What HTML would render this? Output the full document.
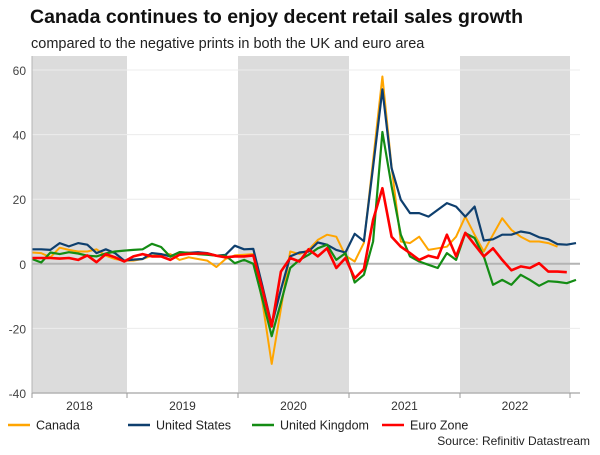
<!DOCTYPE html>
<html><head><meta charset="utf-8">
<style>
body{margin:0;background:#fff;font-family:"Liberation Sans",sans-serif;}
svg text{font-family:"Liberation Sans",sans-serif;}
</style></head>
<body>
<svg id="chart" width="600" height="450" viewBox="0 0 600 450">
<text x="30" y="23" font-size="19.5" font-weight="bold" fill="#111">Canada continues to enjoy decent retail sales growth</text>
<text x="31" y="48" font-size="14.5" fill="#222">compared to the negative prints in both the UK and euro area</text>
<g id="bands"></g>
<g id="grid"></g>
<g id="series"></g>
<g id="axes"></g>
<g id="legend"></g>
<text x="590" y="445" font-size="12" text-anchor="end" fill="#222">Source: Refinitiv Datastream</text>
</svg>
<script>
const yearLabels = ["2018","2019","2020","2021","2022"];
const yTicks = [60,40,20,0,-20,-40];
const seriesNames = ["Canada","United States","United Kingdom","Euro Zone"];
const canada = [3.5,3.3,2,5,4.3,3.8,3.8,4.5,2.5,1.5,1,1,1.5,2.5,2.7,3,1.2,2,1.5,1,-1,1.5,2.6,2.8,3,-12,-31,-14,3.8,3,4.3,7.4,9,8.4,2.5,0.7,6.5,32,58,30,6.9,6.4,8.4,4.3,4.8,5.3,8.4,14.6,9,3.8,9,14.1,10.5,8.4,6.9,6.9,6.4,5.3];
const unitedStates = [4.5,4.5,4.3,6.4,5.4,6.4,5.9,3.3,4.5,3.3,1,1.3,1.5,3.3,3,2.3,3.6,3.4,3.6,3.3,2.5,2.8,5.6,4.5,4.6,-7,-19,-8,2.3,3.5,3.8,6.6,5.9,4.3,3.5,9.3,7,30,54,29.6,19.8,15.7,15.7,14.6,16.7,18.8,17.7,14.6,17.7,7.2,7.6,9,9,10,9.5,8.2,7.6,6.1,5.9,6.4];
const unitedKingdom = [1.5,0.4,3.5,3,3.6,3.2,2.5,2.3,3.2,3.8,4.1,4.3,4.5,6.2,5.2,2.2,3.6,3.4,3,2.8,2.5,2.5,0.2,1.2,0,-11,-22.4,-12,-1.3,1.2,2.8,4.8,5.9,1.2,3.3,-5.8,-3.4,6.9,40.8,24,9,2.3,0.7,-0.3,-1.3,3.3,1.2,9.5,8,2.3,-6.5,-5,-6.5,-3.4,-5,-6.8,-5.4,-5.6,-6,-5];
const euroZone = [1.8,1.8,1.8,1.6,1.8,1.2,2.6,0.5,3,2,0.7,2.3,3,2.3,2.3,1.2,2.8,3.1,3.2,3.2,2.5,2,2.3,2.3,2.6,-8,-19.4,-2.4,1.8,0.7,4.5,2.3,4.8,-1.3,1.8,-4.5,-1.6,13.6,23.4,8.4,5.3,3.3,1.2,2.5,1.8,9,2.3,9.6,5.9,2.3,4.8,1.2,-2,-0.8,-1.3,0.2,-2.4,-2.4,-2.6];

const NS="http://www.w3.org/2000/svg";
const L=32,R=580,T=56,B=393,YTOP=70;
const yMin=-40,yMax=60;
function ys(v){return B-(v-yMin)/(yMax-yMin)*(B-YTOP);}
function xs(i){return L+i*9.22;}
const yearEdges=[L,127,238,349,460,570];
function mk(tag,attrs,parent){const e=document.createElementNS(NS,tag);for(const k in attrs)e.setAttribute(k,attrs[k]);parent.appendChild(e);return e;}

const bands=document.getElementById('bands');
for(let k=0;k<yearLabels.length;k+=2){
  const r=mk('rect',{x:yearEdges[k],y:T,width:yearEdges[k+1]-yearEdges[k],height:B-T,fill:'#dcdcdc'},bands);
  
  
}
const grid=document.getElementById('grid');
const axes=document.getElementById('axes');
yTicks.forEach(v=>{
  const y=ys(v);
  const g=mk('line',{x1:L,x2:R,y1:y,y2:y,stroke:v===0?'#b4b4b4':'#ececec','stroke-width':v===0?2:1},grid);
  
  
  const t=mk('text',{x:26,y:y+5,'font-size':12,'text-anchor':'end',fill:'#444'},axes);
  t.textContent=v;
  
  
});
const ax=mk('line',{x1:L,x2:R,y1:B,y2:B,stroke:'#b4b4b4','stroke-width':1.5},axes);


const ay=mk('line',{x1:L,x2:L,y1:T,y2:B,stroke:'#b4b4b4','stroke-width':1},axes);


yearEdges.forEach((x,k)=>{
  const tk=mk('line',{x1:x,x2:x,y1:B,y2:B+5,stroke:'#999','stroke-width':1},axes);
  
  
});
yearLabels.forEach((lab,k)=>{
  const t=mk('text',{x:(yearEdges[k]+yearEdges[k+1])/2,y:410,'font-size':12,'text-anchor':'middle',fill:'#333'},axes);
  t.textContent=lab;
  
  
});
const colors=['#ffa500','#0e3f6e','#148c14','#ff0000'];
const widths=[2,2.2,2.2,2.6];
const data=[canada,unitedStates,unitedKingdom,euroZone];
const sg=document.getElementById('series');
data.forEach((arr,s)=>{
  const d=arr.map((v,i)=>(i?'L':'M')+xs(i).toFixed(1)+' '+ys(v).toFixed(1)).join(' ');
  const p=mk('path',{d:d,fill:'none',stroke:colors[s],'stroke-width':widths[s],'stroke-linejoin':'round'},sg);
  
  
});
const lg=document.getElementById('legend');
const lx=[8,128,252,382];
seriesNames.forEach((n,s)=>{
  const g=mk('g',{},lg);
  
  
  mk('line',{x1:lx[s],x2:lx[s]+22,y1:425,y2:425,stroke:colors[s],'stroke-width':2.5},g);
  const t=mk('text',{x:lx[s]+28,y:429.5,'font-size':12.5,fill:'#222'},g);
  t.textContent=n;
});
</script>
</body></html>
